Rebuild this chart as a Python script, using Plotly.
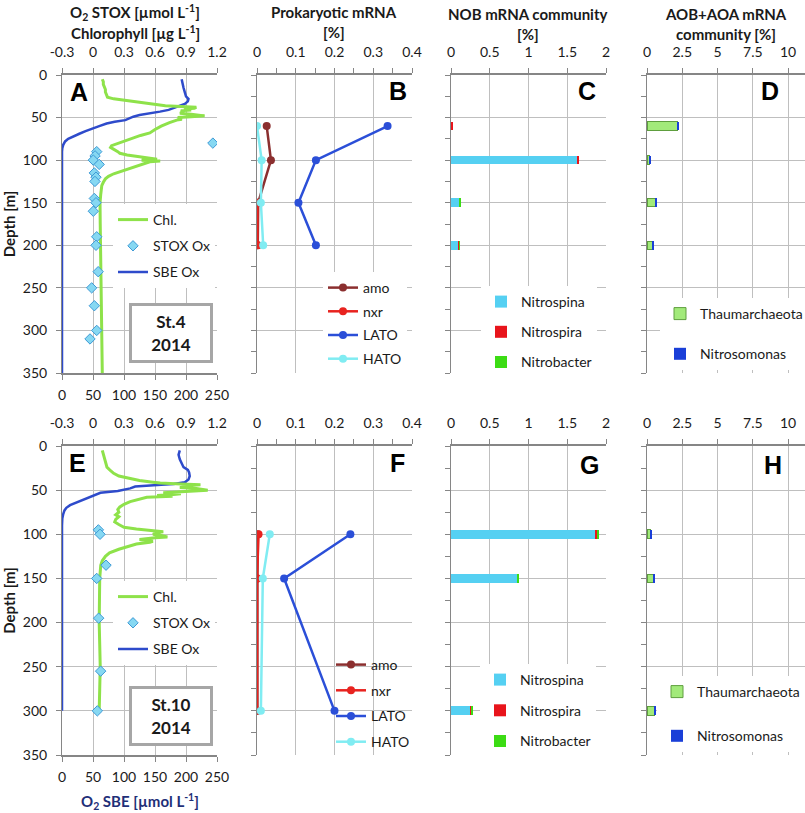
import plotly.graph_objects as go

# ---- Station 4 (top row) : profiles ----
a_sbe_depth = [5, 10, 15, 20, 25, 28, 31, 34, 37, 39, 41, 43, 45, 47, 49, 51, 53, 55, 57, 60,
               63, 66, 69, 72, 75, 78, 82, 86, 90, 350]
a_sbe_o2 = [193, 194, 196, 198, 200, 204, 203, 198, 188, 180, 172, 158, 140, 125, 115, 108, 102, 85, 72, 60,
            48, 38, 28, 18, 10, 5, 2, 0.5, 0, 0]
a_chl_depth = [5, 8, 11, 14, 17, 20, 23, 26, 28, 30, 32, 34, 36, 37, 38, 39, 40, 41, 42, 44,
               45, 46, 47, 48, 49, 50, 52, 53, 56, 60, 64, 68, 71, 74, 77, 80, 83, 85, 87, 90,
               92, 94, 96, 98, 99, 100, 101, 102, 104, 107, 110, 113, 116, 119, 122, 126, 130, 140, 150, 175,
               200, 225, 250, 275, 300, 325, 350]
a_chl = [0.09, 0.10, 0.10, 0.11, 0.12, 0.12, 0.13, 0.14, 0.20, 0.33, 0.45, 0.55, 0.70, 0.85, 1.00, 0.98, 0.88, 0.95, 0.85, 0.88,
         0.84, 0.95, 1.05, 1.08, 0.95, 0.82, 0.86, 0.81, 0.74, 0.66, 0.60, 0.55, 0.46, 0.39, 0.30, 0.24, 0.18, 0.17, 0.20, 0.24,
         0.26, 0.33, 0.45, 0.58, 0.62, 0.47, 0.65, 0.55, 0.50, 0.42, 0.34, 0.27, 0.20, 0.15, 0.12, 0.10, 0.085, 0.075, 0.068, 0.07,
         0.072, 0.075, 0.078, 0.082, 0.085, 0.088, 0.09]
a_stox_depth = [80, 90, 95, 100, 105, 115, 120, 125, 145, 150, 160, 190, 200, 231, 250, 271, 300, 310]
a_stox = [1.16, 0.036, 0.02, 0.003, 0.06, 0.013, 0.029, 0.019, 0.013, 0.029, 0.003, 0.036, 0.029, 0.05,
          -0.013, 0.013, 0.036, -0.029]

# ---- Station 10 (bottom row) : profiles ----
e_sbe_depth = [5, 10, 15, 20, 24, 27, 30, 34, 38, 41, 43, 44, 45, 46, 48, 50, 51, 53, 55, 58,
               61, 63, 65, 67, 70, 73, 77, 82, 90, 300]
e_sbe_o2 = [190, 188, 190, 193, 196, 203, 205, 206, 204, 198, 180, 160, 135, 118, 110, 95, 90, 62, 55, 45,
            35, 29, 20, 13, 7, 4, 2, 0.5, 0, 0]
e_chl_depth = [5, 10, 15, 20, 24, 28, 31, 34, 37, 39, 41, 42, 43, 44, 45, 46, 47, 48, 50, 51,
               52, 53, 54, 55, 56, 57, 58, 60, 63, 66, 69, 72, 75, 78, 80, 83, 86, 89, 92, 94,
               95, 96, 97, 98, 100, 101, 103, 104, 105, 106, 108, 109, 111, 114, 117, 121, 125, 130, 135, 150,
               175, 200, 225, 250, 275, 300]
e_chl = [0.09, 0.10, 0.11, 0.12, 0.135, 0.17, 0.20, 0.25, 0.36, 0.45, 0.58, 0.65, 0.85, 1.04, 0.88, 0.96, 0.84, 1.00, 1.11, 0.95,
         0.90, 0.68, 0.85, 0.78, 0.62, 0.77, 0.52, 0.45, 0.36, 0.30, 0.26, 0.24, 0.25, 0.22, 0.25, 0.22, 0.21, 0.25, 0.30, 0.42,
         0.52, 0.62, 0.68, 0.62, 0.58, 0.65, 0.72, 0.60, 0.50, 0.45, 0.58, 0.55, 0.42, 0.33, 0.25, 0.16, 0.12, 0.09, 0.075, 0.065,
         0.06, 0.06, 0.065, 0.07, 0.065, 0.06]
e_stox_depth = [95, 100, 135, 150, 195, 255, 300]
e_stox = [0.052, 0.068, 0.126, 0.036, 0.055, 0.074, 0.042]

# ---- Prokaryotic mRNA [%] ----
b_depth = [60, 100, 150, 200]
b_amo = [0.025, 0.036, 0.003, 0.002]
b_nxr = [None, None, 0.001, 0.001]
b_lato = [0.337, 0.152, 0.107, 0.152]
b_hato = [0.0, 0.012, 0.01, 0.016]

f_depth = [100, 150, 300]
f_amo = [0.002, 0.001, 0.001]
f_nxr = [0.004, 0.0, 0.0]
f_lato = [0.241, 0.07, 0.2]
f_hato = [0.033, 0.015, 0.01]

# ---- NOB mRNA community [%] ----
c_depth = [60, 100, 150, 200]
c_nitrospina = [0.0, 1.62, 0.107, 0.1]
c_nitrospira = [0.02, 0.03, 0.004, 0.012]
c_nitrobacter = [0.0, 0.0, 0.012, 0.003]

g_depth = [100, 150, 300]
g_nitrospina = [1.87, 0.857, 0.255]
g_nitrospira = [0.02, 0.003, 0.003]
g_nitrobacter = [0.01, 0.02, 0.028]

# ---- AOB+AOA mRNA community [%] ----
d_depth = [60, 100, 150, 200]
d_thaum = [2.15, 0.21, 0.57, 0.4]
d_nitrosomonas = [0.07, 0.07, 0.07, 0.07]

h_depth = [100, 150, 300]
h_thaum = [0.28, 0.47, 0.5]
h_nitrosomonas = [0.08, 0.1, 0.08]

W, H = 805, 813
FONT = 'Lato'
GRID = '#BFBFBF'
AXIS = '#868686'
TXT = '#1a1a1a'
CHL = '#8EE24A'
SBE = '#2E4BCB'
STOX_FILL = '#86D8F2'
STOX_LINE = '#3E9AD6'


def px(x):
    return x / W


def py(y):
    return 1 - y / H


fig = go.Figure()


def profile(chl_d, chl, stox_d, stox, sbe_d, sbe, xtop, xbot, yax, leg):
    fig.add_trace(go.Scatter(x=chl, y=chl_d, xaxis=xtop, yaxis=yax, mode='lines', name='Chl.',
                             line=dict(color=CHL, width=3), legend=leg, legendgroup=leg + 'a'))
    fig.add_trace(go.Scatter(x=stox, y=stox_d, xaxis=xtop, yaxis=yax, mode='markers', name='STOX Ox',
                             marker=dict(symbol='diamond', size=8, color=STOX_FILL,
                                         line=dict(color=STOX_LINE, width=1)),
                             legend=leg, legendgroup=leg + 'b'))
    fig.add_trace(go.Scatter(x=sbe, y=sbe_d, xaxis=xbot, yaxis=yax, mode='lines', name='SBE Ox',
                             line=dict(color=SBE, width=2.5), legend=leg, legendgroup=leg + 'c'))


def mrna(depth, amo, nxr, lato, hato, xax, yax, leg):
    for name, vals, col in [('amo', amo, '#8B2F2F'), ('nxr', nxr, '#E8231F'),
                            ('LATO', lato, '#2B4FD8'), ('HATO', hato, '#80ECF2')]:
        fig.add_trace(go.Scatter(x=vals, y=depth, xaxis=xax, yaxis=yax, mode='lines+markers', name=name,
                                 line=dict(color=col, width=2.5), marker=dict(color=col, size=8),
                                 legend=leg, legendgroup=leg + name))


def bars(depth, series, xax, yax, leg):
    for name, vals, col, edge in series:
        fig.add_trace(go.Bar(x=vals, y=depth, xaxis=xax, yaxis=yax, orientation='h', name=name, width=10,
                             marker=dict(color=col, line=dict(color=edge, width=1 if edge else 0)),
                             legend=leg, legendgroup=leg + name))


profile(a_chl_depth, a_chl, a_stox_depth, a_stox, a_sbe_depth, a_sbe_o2, 'x2', 'x', 'y', 'legend')
mrna(b_depth, b_amo, b_nxr, b_lato, b_hato, 'x3', 'y2', 'legend3')
bars(c_depth, [('Nitrospina', c_nitrospina, '#55D0F2', None), ('Nitrospira', c_nitrospira, '#E8141B', None),
               ('Nitrobacter', c_nitrobacter, '#3CDC14', None)], 'x4', 'y3', 'legend5')
bars(d_depth, [('Thaumarchaeota', d_thaum, '#A2EA7A', '#5E9E3E'),
               ('Nitrosomonas', d_nitrosomonas, '#1A3FD8', None)], 'x5', 'y4', 'legend7')

profile(e_chl_depth, e_chl, e_stox_depth, e_stox, e_sbe_depth, e_sbe_o2, 'x7', 'x6', 'y5', 'legend2')
mrna(f_depth, f_amo, f_nxr, f_lato, f_hato, 'x8', 'y6', 'legend4')
bars(g_depth, [('Nitrospina', g_nitrospina, '#55D0F2', None), ('Nitrospira', g_nitrospira, '#E8141B', None),
               ('Nitrobacter', g_nitrobacter, '#3CDC14', None)], 'x9', 'y7', 'legend6')
bars(h_depth, [('Thaumarchaeota', h_thaum, '#A2EA7A', '#5E9E3E'),
               ('Nitrosomonas', h_nitrosomonas, '#1A3FD8', None)], 'x10', 'y8', 'legend8')

tickfont = dict(family=FONT, size=14, color=TXT)
rows = {1: [py(373), py(75)], 2: [py(755), py(446)]}
cols = {'A': [px(62), px(217)], 'B': [px(257), px(412)], 'C': [px(451), px(606)], 'D': [px(647), 1.0]}


def xax(dom, rng, vals, anchor, side='top', text=None, minor=None, grid=True, standoff=6):
    d = dict(domain=dom, range=rng, tickvals=vals, anchor=anchor, side=side, showgrid=grid, gridcolor=GRID,
             gridwidth=1, zeroline=False, showline=True, linecolor=AXIS, linewidth=1.5, ticks='outside',
             ticklen=5, tickcolor=AXIS, tickfont=tickfont, fixedrange=True, automargin=False,
             ticklabelstandoff=standoff)
    if text:
        d['ticktext'] = text
    if minor:
        d['minor'] = dict(tickvals=minor, ticks='outside', ticklen=5, tickcolor=AXIS, showgrid=False)
    return d


def yax(dom, anchor, labels=False, minor=False, title=None):
    d = dict(domain=dom, range=[350, 0], tickvals=list(range(0, 351, 50)), anchor=anchor, showgrid=True,
             gridcolor=GRID, gridwidth=1, zeroline=False, showline=True, linecolor=AXIS, linewidth=1,
             ticks='outside', ticklen=5, tickcolor=AXIS, showticklabels=labels, tickfont=tickfont,
             fixedrange=True, automargin=False, ticklabelstandoff=6)
    if minor:
        d['minor'] = dict(dtick=25, tick0=25, ticks='outside', ticklen=5, tickcolor=AXIS, showgrid=False)
    if title:
        d['title'] = dict(text=title, font=dict(family=FONT, size=15, color=TXT), standoff=5)
    return d


top_a = [-0.3, 0, 0.3, 0.6, 0.9, 1.2]
top_a_txt = ['-0.3', '0', '0.3', '0.6', '0.9', '1.2']
sbe_vals = [0, 50, 100, 150, 200, 250]
b_vals = [0, 0.1, 0.2, 0.3, 0.4]
b_minor = [0.05, 0.15, 0.25, 0.35]
c_vals = [0, 0.5, 1, 1.5, 2]
d_vals = [0, 2.5, 5, 7.5, 10]

layout_axes = {}
for r, (xa, xt, xb, xc, xd, ya, yb, yc, yd) in {
        1: ('xaxis', 'xaxis2', 'xaxis3', 'xaxis4', 'xaxis5', 'yaxis', 'yaxis2', 'yaxis3', 'yaxis4'),
        2: ('xaxis6', 'xaxis7', 'xaxis8', 'xaxis9', 'xaxis10', 'yaxis5', 'yaxis6', 'yaxis7', 'yaxis8')}.items():
    yid = lambda name: 'y' + name[5:]
    xid = lambda name: 'x' + name[5:]
    layout_axes[xa] = xax(cols['A'], [0, 250], sbe_vals, yid(ya), side='bottom', grid=False, standoff=3)
    layout_axes[xt] = xax(cols['A'], [-0.3, 1.2], top_a, yid(ya), text=top_a_txt)
    layout_axes[xt]['overlaying'] = xid(xa)
    layout_axes[xb] = xax(cols['B'], [0, 0.4], b_vals, yid(yb), minor=b_minor)
    layout_axes[xc] = xax(cols['C'], [0, 2], c_vals, yid(yc))
    layout_axes[xd] = xax(cols['D'], [0, 11.2], d_vals, yid(yd))
    layout_axes[ya] = yax(rows[r], xid(xa), labels=True, title='<b>Depth [m]</b>')
    layout_axes[yb] = yax(rows[r], xid(xb), minor=True)
    layout_axes[yc] = yax(rows[r], xid(xc), minor=True)
    layout_axes[yd] = yax(rows[r], xid(xd), minor=True)

fig.update_layout(**layout_axes)


def leg(x, y, gap, bg='white'):
    return dict(x=px(x), y=py(y), xanchor='left', yanchor='top', bgcolor=bg, traceorder='grouped',
                tracegroupgap=gap, font=dict(family=FONT, size=14, color=TXT), itemwidth=30)


fig.update_layout(
    width=W, height=H, margin=dict(l=0, r=0, t=0, b=0, autoexpand=False), plot_bgcolor='white',
    paper_bgcolor='white', barmode='stack', showlegend=True, font=dict(family=FONT, color=TXT),
    legend=leg(113, 204, 5), legend2=leg(113, 581, 5),
    legend3=leg(323, 272, 2.5), legend4=leg(331, 649, 4.5, bg='rgba(0,0,0,0)'),
    legend5=leg(481, 286, 9), legend6=leg(480, 664, 9.5),
    legend7=leg(660, 298, 19), legend8=leg(657, 676, 23),
)

bold = dict(family=FONT, size=15, color=TXT)
titles = [
    (135, 12, '<b>O<sub>2</sub> STOX [µmol L<sup>-1</sup>]</b>'),
    (135, 32, '<b>Chlorophyll [µg L<sup>-1</sup>]</b>'),
    (334, 12, '<b>Prokaryotic mRNA</b>'),
    (334, 32, '<b>[%]</b>'),
    (528, 14, '<b>NOB mRNA community</b>'),
    (528, 34, '<b>[%]</b>'),
    (726, 14, '<b>AOB+AOA mRNA</b>'),
    (726, 34, '<b>community [%]</b>'),
]
for x, y, t in titles:
    fig.add_annotation(x=px(x), y=py(y), xref='paper', yref='paper', text=t, showarrow=False, font=bold,
                       xanchor='center', yanchor='middle')
fig.add_annotation(x=px(140), y=py(801), xref='paper', yref='paper', showarrow=False,
                   text='<b>O<sub>2</sub> SBE [µmol L<sup>-1</sup>]</b>', font=dict(family=FONT, size=15, color='#1F2F78'),
                   xanchor='center', yanchor='middle')

letters = [('A', 79, 92), ('B', 398, 91), ('C', 587, 91), ('D', 770, 91),
           ('E', 77, 463), ('F', 397, 463), ('G', 589, 465), ('H', 773, 465)]
for t, x, y in letters:
    fig.add_annotation(x=px(x), y=py(y), xref='paper', yref='paper', text='<b>' + t + '</b>', showarrow=False,
                       font=dict(family='Liberation Sans', size=25, color='black'),
                       xanchor='center', yanchor='middle')

for x, y, t in [(171, 333, '<b>St.4<br>2014</b>'), (171, 716, '<b>St.10<br>2014</b>')]:
    fig.add_annotation(x=px(x), y=py(y), xref='paper', yref='paper', text=t, showarrow=False,
                       font=dict(family=FONT, size=17, color=TXT), align='center',
                       width=78, height=54, bgcolor='white', bordercolor='#A6A6A6', borderwidth=3,
                       borderpad=0, xanchor='center', yanchor='middle')

# the page's default body margin would shift the figure by 8 px
fig.write_html("out.html", config={'displayModeBar': False},
               post_script="document.body.style.margin='0';document.body.style.overflow='hidden';")
